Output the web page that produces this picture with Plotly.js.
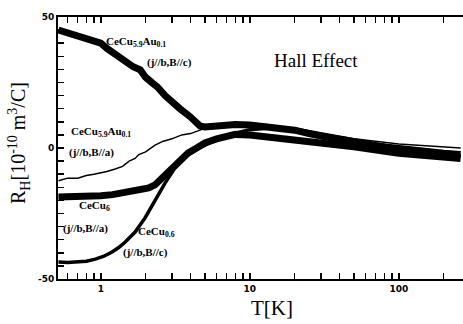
<!DOCTYPE html>
<html><head><meta charset="utf-8">
<script src="https://cdn.plot.ly/plotly-3.0.1.min.js"></script>
<style>html,body{margin:0;padding:0;background:#fff}#chart{width:463px;height:324px}</style>
</head><body><div id="chart"></div>
<script>
// CeCu5.9Au0.1 (j//b, B//c)
const tAuC = [0.52,0.56,0.6,0.65,0.7,0.75,0.8,0.9,1.0,1.1,1.2,1.35,1.5,1.65,1.84,2.0,2.2,2.4,2.7,3.0,3.4,3.97,4.3,4.64,5.0,5.5,6,7,8,10,13,17,20,25,30,40,50,70,100,150,200,260];
const rAuC = [45,44.5,44,43.5,42.8,42.5,42,41,40,38,36.5,34.7,32.5,31,29.8,27,25,23.3,20,17.5,15,12,10,8.4,8,8.3,8.5,9,9,8.8,8.2,7.3,6.8,5.5,4.5,3,2,0.8,-0.3,-1.3,-2,-2.5];
// CeCu5.9Au0.1 (j//b, B//a)
const tAuA = [0.52,0.6,0.7,0.8,0.9,1.0,1.1,1.25,1.4,1.55,1.7,1.8,2.0,2.3,2.6,3.0,3.5,4.0,4.5,5.0,6,8,10,13,17,20,30,50,100,200,260];
const rAuA = [-12.5,-11.5,-11.5,-10.5,-10,-9.5,-9,-8,-7,-5,-4,-2.5,-1.5,1,2.5,3.5,5,5.5,6.5,7.5,8.5,9.5,9.5,9,8,7.5,5.5,3.5,1.5,0.5,0];
// CeCu6 (j//b, B//a)
const tCuA = [0.52,0.6,0.7,0.82,1.0,1.2,1.39,1.6,1.89,2.1,2.31,2.5,2.7,2.9,3.15,3.5,3.85,4.4,5.0,6,7.2,8,10,12,15,20,25,30,50,100,200,260];
const rCuA = [-18.7,-18.7,-18.7,-18.7,-18.2,-17.8,-17.2,-16.8,-16,-15.2,-14.1,-12.3,-10.3,-8.5,-6.5,-4.2,-1.9,0,1.9,3.5,5,5.2,5,4.5,4,3.5,3,2.5,0.5,-2,-3.5,-4];
// CeCu6 (j//b, B//c)
const tCuC = [0.52,0.6,0.67,0.8,0.92,1.05,1.19,1.32,1.46,1.7,1.98,2.31,2.7,3.15,3.5,3.85,4.4,5.0,5.7,6.5,7.97,10,12,15,20,30,50,100,200,260];
const rCuC = [-43.5,-43.7,-43.5,-43.2,-42.4,-41.3,-39.7,-38,-35.9,-32.1,-26.7,-19.8,-13.4,-7.6,-4.8,-2.7,-0.6,1.1,2.8,4.2,5.7,7,7.5,7.8,7.3,5.5,3,0,-2.5,-3];

// tick positions (majors labelled, minors blank)
const xTickVals = [0.6,0.7,0.8,0.9,1,2,3,4,5,6,7,8,9,10,20,30,40,50,60,70,80,90,100,200];
const xTickText = ['','','','','<b>1</b>','','','','','','','','','<b>10</b>','','','','','','','','','<b>100</b>',''];
const yTickVals = [-50,-45,-40,-35,-30,-25,-20,-15,-10,-5,0,5,10,15,20,25,30,35,40,45,50];
const yTickText = ['<b>-50</b>','','','','','','','','','','<b>0</b>','','','','','','','','','','<b>50</b>'];

const labelFont = {family:'Liberation Serif', size:11, color:'#000000'};

const traces = [
  {x:tCuC, y:rCuC, mode:'lines', line:{color:'#000', width:3.5}, name:'CeCu6 B//c'},
  {x:tAuA, y:rAuA, mode:'lines', line:{color:'#000', width:1.5}, name:'CeCu5.9Au0.1 B//a'},
  {x:tCuA, y:rCuA, mode:'lines', line:{color:'#000', width:7}, name:'CeCu6 B//a'},
  {x:tAuC, y:rAuC, mode:'lines', line:{color:'#000', width:7}, name:'CeCu5.9Au0.1 B//c'}
];

function px(x){return (x-58)/405;}
function py(y){return (279-y)/262;}
function lab(text, x, y){
  return {text:'<b>'+text+'</b>', xref:'paper', yref:'paper', x:px(x), y:py(y), xanchor:'left', yanchor:'middle', showarrow:false, font:labelFont};
}
const tickFont = {family:'DejaVu Sans', size:9, color:'#000000'};

const layout = {
  width:463, height:324,
  margin:{l:58, r:0, t:17, b:45},
  showlegend:false,
  xaxis:{type:'log', range:[-0.287, 2.431], showgrid:false, zeroline:false, layer:'above traces',
    showline:true, linecolor:'#000000', linewidth:2, mirror:'allticks',
    ticks:'inside', ticklen:6, tickwidth:1.5, tickcolor:'#000000',
    tickmode:'array', tickvals:xTickVals, ticktext:xTickText, tickfont:tickFont},
  yaxis:{range:[-50,50], showgrid:false, zeroline:false, layer:'above traces',
    showline:true, linecolor:'#000000', linewidth:2,
    ticks:'inside', ticklen:6, tickwidth:1.5, tickcolor:'#000000',
    tickmode:'array', tickvals:yTickVals, ticktext:yTickText, tickfont:tickFont},
  annotations:[
    lab('CeCu<sub>5.9</sub>Au<sub>0.1</sub>', 104, 42),
    lab('(j//b,B//c)', 145, 63),
    lab('CeCu<sub>5.9</sub>Au<sub>0.1</sub>', 69, 132),
    lab('(j//b,B//a)', 67, 152),
    lab('CeCu<sub>6</sub>', 77, 206),
    lab('(j//b,B//a)', 61, 228),
    lab('CeCu<sub>0.6</sub>', 136, 232),
    lab('(j//b,B//c)', 121, 252),
    {text:'Hall Effect', xref:'paper', yref:'paper', x:px(316), y:py(61), xanchor:'center', yanchor:'middle', showarrow:false,
     font:{family:'Liberation Serif', size:19, color:'#000000'}},
    {text:'T[K]', xref:'paper', yref:'paper', x:px(272), y:py(308), xanchor:'center', yanchor:'middle', showarrow:false,
     font:{family:'Liberation Serif', size:21, color:'#000000'}},
    {text:'R<sub>H</sub>[10<sup>-10</sup> m<sup>3</sup>/C]', xref:'paper', yref:'paper', x:px(19), y:py(143), xanchor:'center', yanchor:'middle', textangle:-90, showarrow:false,
     font:{family:'Liberation Serif', size:20, color:'#000000'}}
  ]
};

Plotly.newPlot('chart', traces, layout, {staticPlot:true});
</script>
</body></html>
